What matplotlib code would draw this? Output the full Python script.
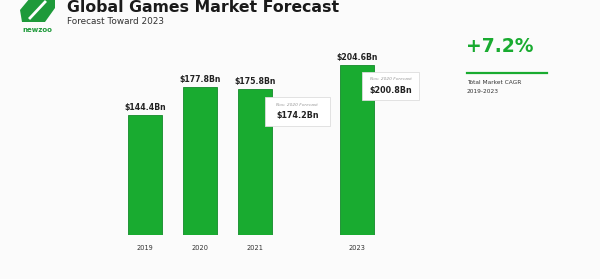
import matplotlib
matplotlib.use("Agg")
import matplotlib.pyplot as plt
import numpy as np
from matplotlib.patches import FancyBboxPatch, Polygon

years = ["2019", "2020", "2021", "2023"]
revenue = [144.4, 177.8, 175.8, 204.6]
prev_years = ["2021", "2023"]
prev_forecast = [174.2, 200.8]
prev_label = "Nov. 2020 Forecast"
cagr = "+7.2%"

GREEN = "#19ab30"
W, H = 600, 279
fig = plt.figure(figsize=(6, 2.79), dpi=100)
fig.patch.set_facecolor("#fbfbfb")

def fx(px):
    return px / W

def fy(py):
    return 1 - py / H

# bar axes: bottom at y=235px, left 100px, right 430px, top 40px
ax = fig.add_axes([fx(100), fy(235), fx(330), (235 - 40) / H])
ax.set_facecolor("none")
pos = np.array([0, 1, 2, 3.85])
ax.bar(pos, revenue, width=0.62, color=GREEN, edgecolor="#138a2a", linewidth=0.6, zorder=2)
ax.set_xlim(-45 / 55, 330 / 55 - 45 / 55)
ax.set_ylim(0, 195 / 0.83)
for p, v in zip(pos, revenue):
    ax.text(p, v + 4, f"${v:.1f}Bn", ha="center", va="bottom", fontsize=5.6,
            fontweight="bold", color="#222222")
ax.set_xticks(pos)
ax.set_xticklabels(years, fontsize=4.8, color="#333333")
ax.tick_params(length=0, pad=7)
for s in ax.spines.values():
    s.set_visible(False)
ax.set_yticks([])

# previous forecast boxes
box_w = {"2021": 1.18, "2023": 1.05}
box_drop = {"2021": 10, "2023": 8}
for yr, val in zip(prev_years, prev_forecast):
    i = years.index(yr)
    p = pos[i]
    bx = p + 0.18 if yr == "2021" else p + 0.09
    top = revenue[i] - box_drop[yr]
    bw, bh = box_w[yr], 34
    box = FancyBboxPatch((bx, top - bh), bw, bh, boxstyle="square,pad=0",
                         facecolor="white", edgecolor="#dddddd", linewidth=0.6,
                         zorder=3, clip_on=False)
    ax.add_patch(box)
    ax.text(bx + bw / 2, top - 9, prev_label, ha="center", va="center",
            fontsize=3.2, color="#999999", style="italic", zorder=4, clip_on=False)
    ax.text(bx + bw / 2, top - 22, f"${val:.1f}Bn", ha="center", va="center",
            fontsize=5.8, fontweight="bold", color="#222222", zorder=4, clip_on=False)

# title
fig.text(fx(67), fy(0.5), "Global Games Market Forecast", fontsize=11.3,
         fontweight="bold", color="#1a1a1a", va="top", ha="left")
fig.text(fx(67), fy(21), "Forecast Toward 2023", fontsize=6.4, color="#333333",
         va="center", ha="left")

# logo
logo = Polygon([[fx(20), fy(10)], [fx(30), fy(-2)], [fx(55), fy(-2)], [fx(55), fy(8)],
                [fx(45), fy(22)], [fx(22), fy(22)]], closed=True,
               facecolor="#1e9a3a", edgecolor="none", transform=fig.transFigure)
fig.patches.append(logo)
fig.lines.append(plt.Line2D([fx(30), fx(45)], [fy(18), fy(2)], color="white",
                            lw=2, transform=fig.transFigure))
fig.text(fx(37), fy(30), "newzoo", fontsize=5, fontweight="bold", color="#1e9a3a",
         ha="center", va="center")

# CAGR block
fig.text(fx(466), fy(47), cagr, fontsize=13.5, fontweight="bold", color=GREEN,
         ha="left", va="center")
fig.lines.append(plt.Line2D([fx(467), fx(547)], [fy(73), fy(73)], color=GREEN,
                            lw=1.6, transform=fig.transFigure))
fig.text(fx(467), fy(83), "Total Market CAGR", fontsize=4.2, color="#333333",
         ha="left", va="center")
fig.text(fx(467), fy(91), "2019-2023", fontsize=4.2, color="#333333",
         ha="left", va="center")

fig.savefig("out.png", dpi=100, facecolor=fig.get_facecolor())
